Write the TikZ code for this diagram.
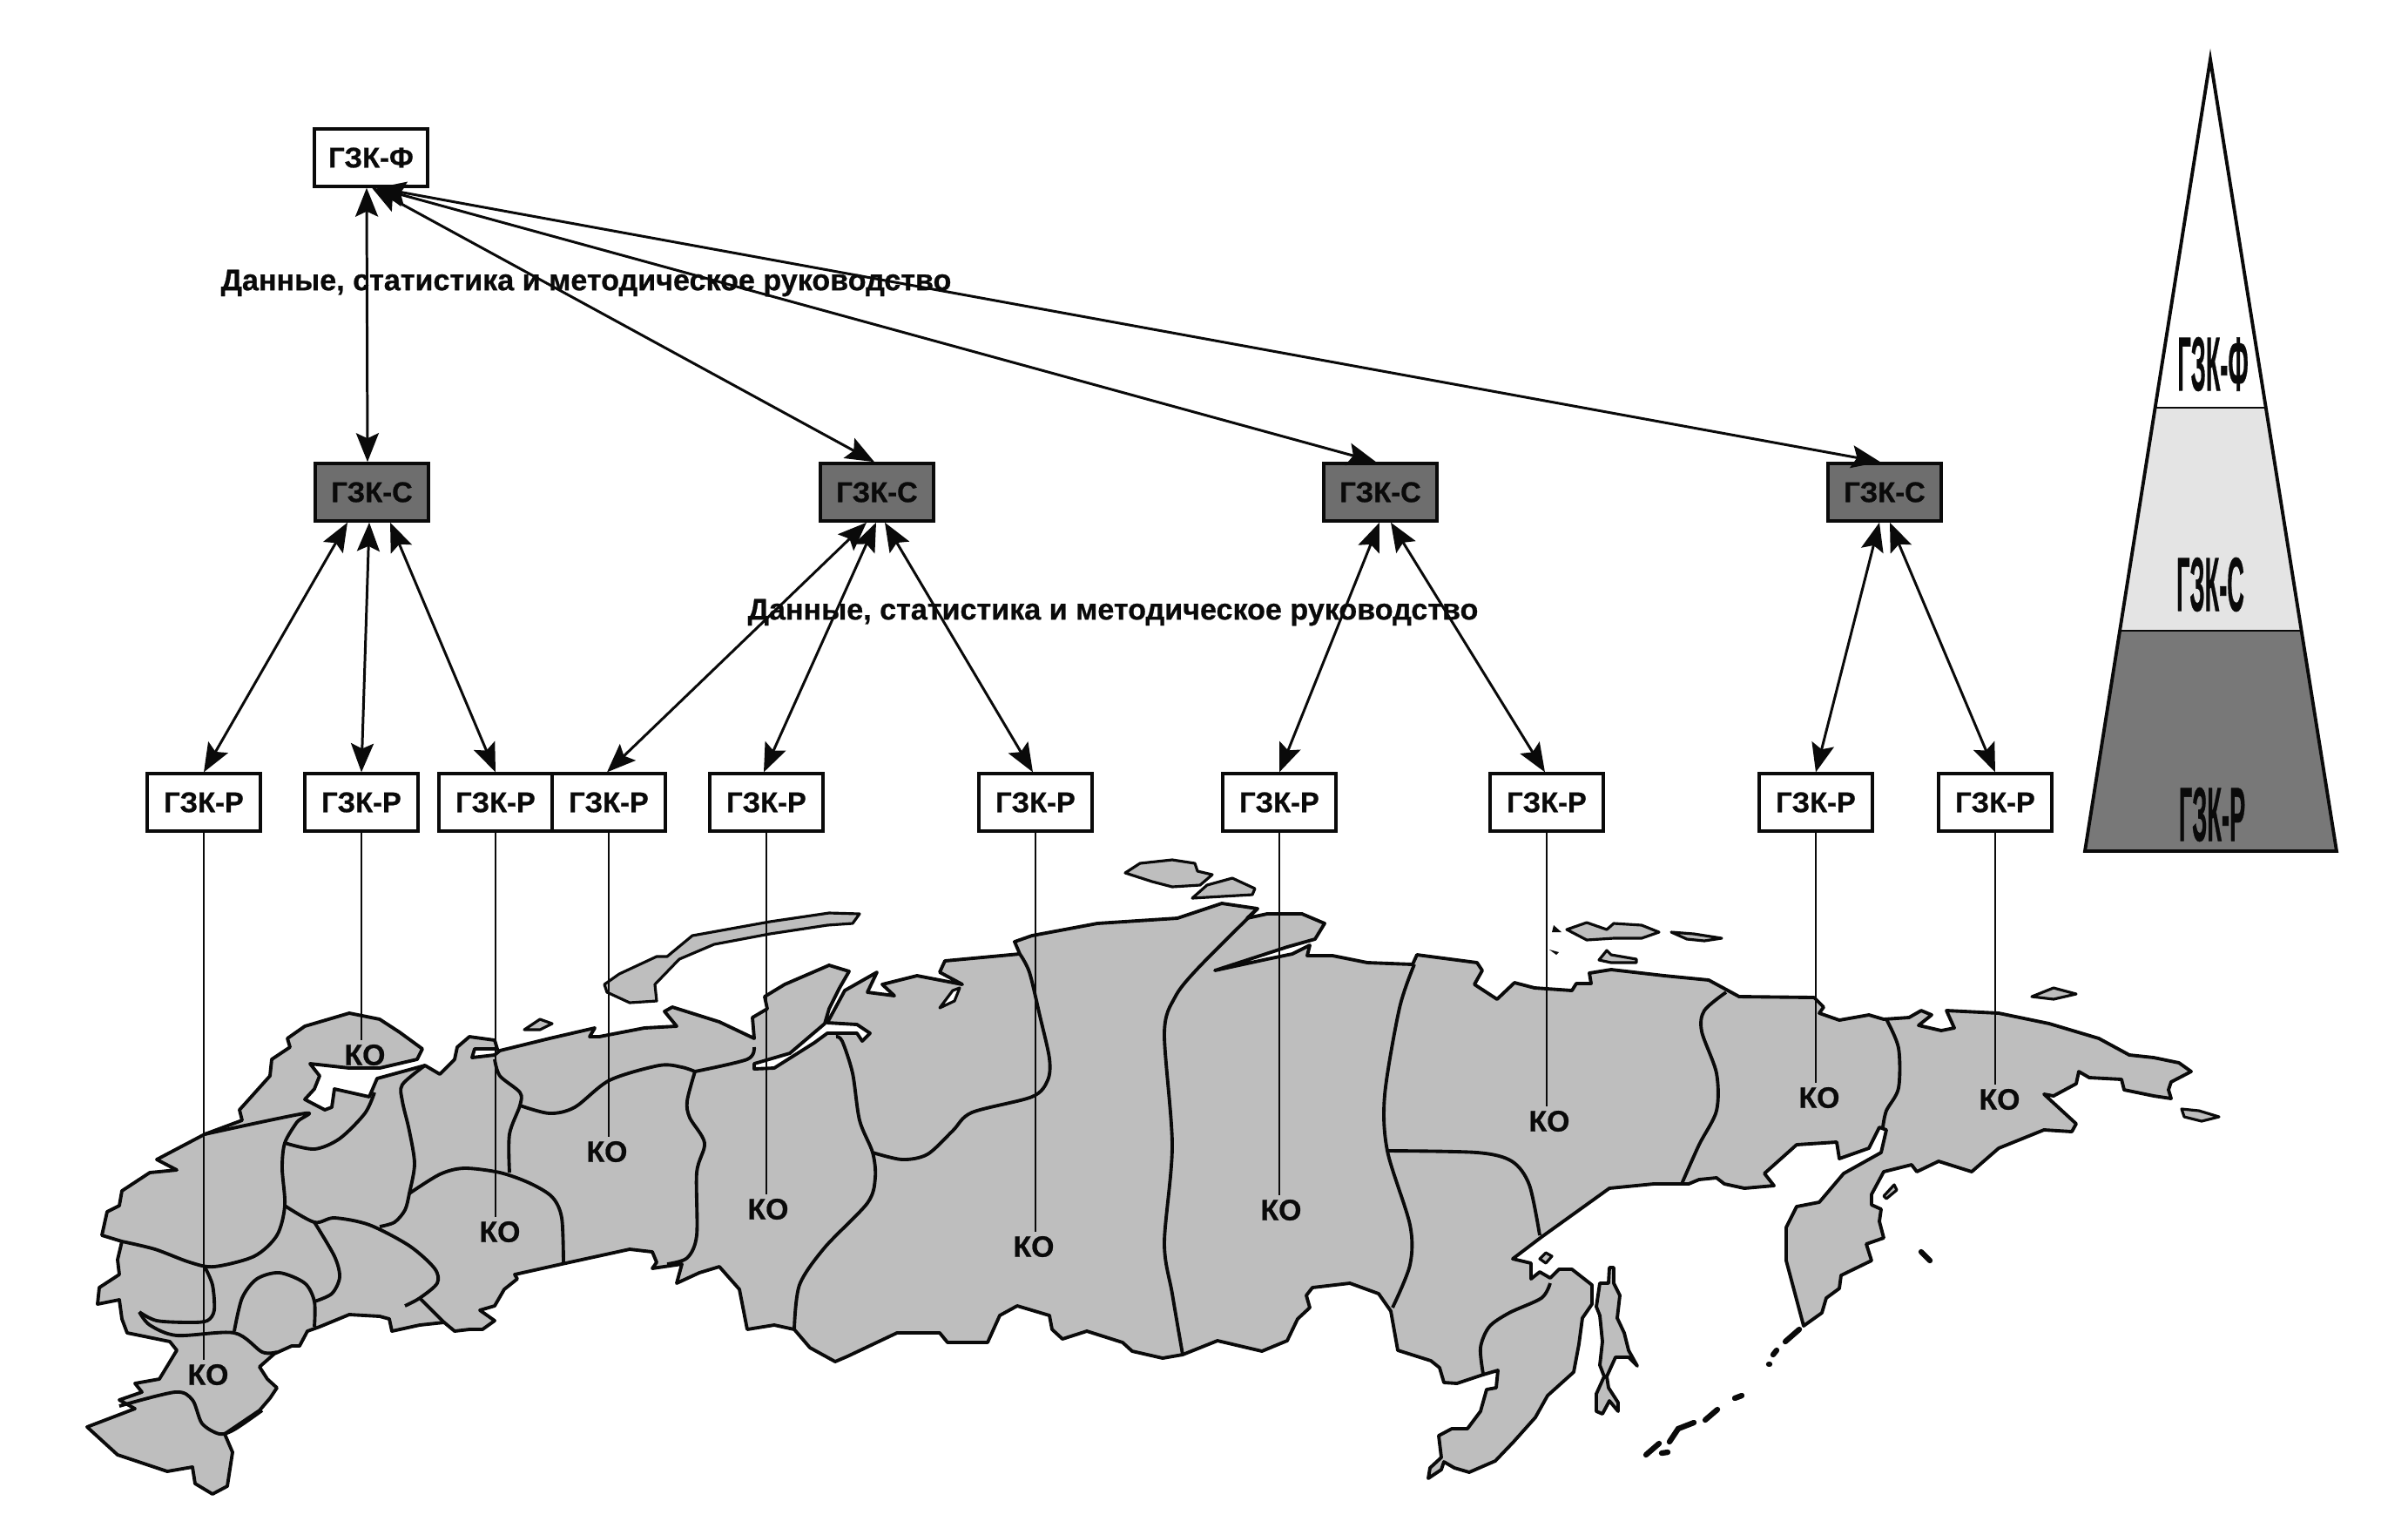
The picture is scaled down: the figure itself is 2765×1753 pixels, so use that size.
\documentclass[tikz,border=0pt]{standalone}
\usepackage{fontspec}
\setmainfont[BoldFeatures={FakeBold=0.7}]{Liberation Sans}
\usetikzlibrary{arrows.meta,calc}
\definecolor{mapink}{HTML}{0A0A0A}
\definecolor{landgray}{HTML}{BEBEBE}
\definecolor{syngray}{HTML}{6E6E6E}
\definecolor{midgray}{HTML}{E4E4E4}
\definecolor{lowgray}{HTML}{787878}

\begin{document}
\begin{tikzpicture}[x=0.01cm, y=-0.01cm, text=mapink,
    land/.style={draw=mapink, fill=landgray, line width=1.1pt, line join=round},
    isle/.style={draw=mapink, fill=landgray, line width=0.9pt, line join=round},
    border/.style={draw=mapink, line width=1.1pt, line join=round, smooth},
    kuril/.style={draw=mapink, line width=1.8pt, line cap=round},
    link/.style={draw=mapink, line width=0.85pt, {Stealth[length=3.3mm, width=2.6mm, inset=0.6mm]}-{Stealth[length=3.3mm, width=2.6mm, inset=0.6mm]}},
    drop/.style={draw=mapink, line width=0.7pt},
    gzkbox/.style={draw=mapink, fill=white, line width=0.9pt, minimum width=1.3cm, minimum height=0.66cm, inner sep=0pt, font=\fontsize{9.3}{10}\selectfont\bfseries},
    gzkdark/.style={gzkbox, fill=syngray, line width=1pt},
    kolabel/.style={inner sep=0.4mm, font=\fontsize{9.6}{10}\selectfont\bfseries},
    note/.style={inner sep=0pt, font=\fontsize{9.7}{10}\selectfont\bfseries},
    pylabel/.style={inner sep=0pt, xscale=0.31, font=\fontsize{25}{26}\selectfont\bfseries},
    pyside/.style={draw=mapink, line width=1.1pt, line join=miter},
  ]
  \useasboundingbox (0,0) rectangle (2765,1753);

  % mainland
  \draw[land] plot coordinates {
    (330,1192) (350,1178) (401,1163) (436,1170) (459,1185) (485,1204) (479,1216) (436,1226) (401,1226)
    (356,1221) (367,1235) (361,1250) (350,1262) (373,1274) (381,1271) (384,1250) (424,1259) (433,1238)
    (488,1223) (505,1233) (522,1216) (525,1202) (539,1190) (568,1194) (571,1204) (545,1204) (542,1214)
    (568,1211) (574,1206) (631,1192) (683,1180) (677,1190) (688,1190) (740,1180) (777,1178) (763,1161)
    (772,1156) (826,1173) (866,1192) (864,1168) (881,1158) (878,1144) (901,1130) (952,1108) (975,1115)
    (964,1134) (952,1158) (947,1175) (907,1209) (866,1221) (866,1227) (889,1226) (935,1197) (950,1186)
    (984,1186) (990,1195) (999,1186) (984,1176) (950,1174) (970,1137) (1007,1116) (996,1139) (1027,1143)
    (1013,1130) (1053,1120) (1105,1130) (1079,1116) (1085,1103) (1171,1095) (1165,1081) (1185,1074)
    (1260,1060) (1352,1054) (1403,1037) (1444,1043) (1432,1054) (1455,1049) (1495,1049) (1521,1060)
    (1510,1078) (1478,1087) (1395,1114) (1455,1101) (1484,1095) (1504,1085) (1501,1097) (1530,1097)
    (1570,1105) (1622,1107) (1627,1096) (1696,1105) (1702,1114) (1693,1130) (1719,1147) (1739,1128)
    (1762,1134) (1805,1137) (1810,1129) (1827,1129) (1825,1117) (1850,1113) (1911,1120) (1962,1125)
    (1997,1144) (2083,1145) (2094,1156) (2089,1163) (2112,1171) (2146,1165) (2163,1170) (2192,1168)
    (2206,1160) (2218,1165) (2203,1177) (2229,1183) (2244,1180) (2235,1160) (2295,1163) (2353,1175)
    (2410,1192) (2445,1211) (2473,1214) (2502,1220) (2516,1230) (2493,1242) (2490,1251) (2493,1261)
    (2473,1258) (2439,1251) (2436,1239) (2399,1237) (2387,1230) (2384,1244) (2358,1258) (2347,1256)
    (2384,1290) (2379,1299) (2347,1297) (2295,1318) (2264,1345) (2226,1333) (2201,1345) (2195,1337)
    (2163,1345) (2149,1371) (2149,1383) (2160,1388) (2158,1402) (2163,1421) (2143,1428) (2149,1447)
    (2114,1464) (2112,1479) (2097,1490) (2092,1507) (2071,1522) (2051,1447) (2051,1409) (2063,1385)
    (2089,1380) (2117,1347) (2160,1323) (2166,1297) (2158,1294) (2146,1318) (2112,1330) (2109,1311)
    (2063,1314) (2026,1347) (2037,1361) (2003,1364) (1980,1359) (1971,1352) (1951,1354) (1939,1359)
    (1899,1359) (1848,1364) (1770,1420) (1737,1445) (1758,1450) (1758,1468) (1768,1460) (1780,1467)
    (1790,1457) (1805,1457) (1828,1475) (1828,1497) (1817,1513) (1813,1543) (1807,1575) (1777,1602)
    (1763,1627) (1738,1655) (1717,1677) (1687,1690) (1670,1685) (1658,1678) (1655,1687) (1640,1697)
    (1642,1685) (1655,1673) (1652,1648) (1667,1640) (1685,1640) (1700,1620) (1707,1595) (1718,1593)
    (1720,1573) (1703,1578) (1673,1588) (1658,1587) (1653,1570) (1643,1562) (1605,1550) (1597,1505)
    (1583,1485) (1550,1473) (1507,1478) (1500,1487) (1504,1501) (1490,1514) (1478,1539) (1449,1551)
    (1398,1539) (1358,1555) (1335,1559) (1300,1551) (1289,1541) (1248,1528) (1220,1537) (1208,1526)
    (1205,1510) (1168,1499) (1148,1510) (1134,1541) (1088,1541) (1079,1530) (1030,1530) (973,1557)
    (959,1563) (930,1547) (912,1526) (889,1521) (858,1526) (849,1480) (826,1454) (803,1461) (777,1473)
    (783,1451) (749,1456) (754,1449) (749,1437) (723,1434) (645,1451) (591,1463) (594,1468) (579,1480)
    (568,1499) (551,1504) (568,1516) (554,1526) (539,1526) (522,1528) (510,1518) (482,1521) (450,1528)
    (447,1514) (436,1511) (401,1509) (367,1523) (353,1528) (344,1545) (335,1545) (315,1554) (298,1569)
    (307,1583) (318,1593) (310,1605) (298,1619) (258,1646) (267,1667) (261,1706) (244,1715) (224,1703)
    (221,1684) (192,1689) (135,1670) (100,1638) (155,1617) (137,1607) (163,1598) (155,1588) (183,1583)
    (203,1550) (195,1540) (146,1530) (140,1514) (137,1492) (112,1497) (114,1478) (137,1463) (135,1446)
    (140,1425) (117,1418) (123,1391) (137,1384) (140,1367) (172,1346) (203,1343) (180,1331) (235,1302)
    (278,1286) (275,1274) (310,1235) (312,1216) (333,1202)
  } -- cycle;
  \draw[isle, fill=white] (1094,1137) -- (1079,1157) -- (1096,1149) -- (1102,1134) -- cycle;

  % islands
  \draw[isle] plot coordinates {(694,1130) (711,1118) (754,1098) (766,1098) (795,1074) (884,1058) (952,1048) (987,1049) (979,1060) (950,1062) (884,1072) (820,1084) (780,1101) (752,1130) (754,1149) (723,1151) (697,1139)} -- cycle;
  \draw[isle] plot coordinates {(602,1182) (620,1170) (634,1175) (620,1182)} -- cycle;
  \draw[isle] plot coordinates {(1292,1002) (1309,991) (1346,987) (1372,991) (1375,1000) (1392,1004) (1378,1016) (1346,1018) (1323,1012)} -- cycle;
  \draw[isle] plot coordinates {(1369,1031) (1386,1016) (1415,1008) (1441,1020) (1438,1027)} -- cycle;
  \draw[isle] plot coordinates {(1799,1067) (1822,1059) (1845,1067) (1853,1060) (1885,1062) (1905,1070) (1885,1077) (1853,1077) (1822,1079)} -- cycle;
  \draw[isle] plot coordinates {(1919,1070) (1945,1072) (1977,1077) (1957,1080) (1937,1078)} -- cycle;
  \draw[isle] plot coordinates {(1836,1102) (1845,1091) (1850,1096) (1879,1101) (1879,1105) (1850,1105)} -- cycle;
  \draw[isle] plot coordinates {(2333,1144) (2358,1134) (2384,1141) (2358,1147)} -- cycle;
  \draw[isle] plot coordinates {(2505,1273) (2525,1275) (2548,1282) (2528,1287) (2508,1282)} -- cycle;
  \draw[isle] plot coordinates {(2163,1373) (2175,1360) (2178,1366) (2166,1376)} -- cycle;
  \draw[isle] plot coordinates {(1768,1445) (1775,1438) (1782,1442) (1775,1450)} -- cycle;
  \draw[land] plot coordinates {(1848,1455) (1853,1455) (1853,1473) (1860,1487) (1857,1513) (1865,1530) (1870,1550) (1880,1568) (1870,1558) (1855,1558) (1845,1580) (1847,1593) (1858,1610) (1858,1620) (1848,1608) (1840,1623) (1833,1620) (1833,1600) (1842,1580) (1837,1567) (1840,1540) (1837,1510) (1833,1500) (1837,1473) (1847,1473)} -- cycle;

  % kurils and specks
  \fill[mapink] (1784,1062) -- (1793,1070) -- (1782,1070) -- cycle;
  \fill[mapink] (1779,1090) -- (1790,1093) -- (1787,1096) -- cycle;
  \draw[kuril] (2206,1437) -- (2216,1447);
  \draw[kuril] (2050,1540) -- (2066,1526);
  \draw[kuril] (2036,1555) -- (2040,1550);
  \draw[kuril] (2031,1566) -- (2032,1566);
  \draw[kuril] (1992,1605) -- (2000,1602);
  \draw[kuril] (1958,1630) -- (1972,1618);
  \draw[kuril] (1917,1655) -- (1927,1640) -- (1945,1633);
  \draw[kuril] (1890,1670) -- (1905,1657);
  \draw[kuril] (1908,1668) -- (1915,1667);

  % region borders
  \draw[border] plot coordinates {(235,1302) (350,1278) (341,1288) (327,1312) (324,1341) (327,1384) (318,1418) (292,1442) (246,1454) (218,1449) (178,1434) (140,1425)};
  \draw[border] plot[smooth] coordinates {(327,1312) (361,1319) (390,1307) (419,1278) (430,1254)};
  \draw[border] plot[smooth] coordinates {(488,1223) (462,1245) (462,1264) (470,1298) (476,1336) (470,1370) (465,1389) (453,1403) (436,1408)};
  \draw[border] plot[smooth] coordinates {(327,1384) (361,1403) (384,1398) (424,1406) (470,1430) (499,1456) (502,1473) (482,1490) (465,1499)};
  \draw[border] plot coordinates {(482,1490) (510,1518)};
  \draw[border] plot[smooth] coordinates {(361,1403) (384,1442) (390,1466) (381,1485) (361,1494)};
  \draw[border] plot[smooth] coordinates {(361,1523) (361,1494) (350,1473) (321,1461) (295,1468) (278,1490) (269,1528)};
  \draw[border] plot[smooth] coordinates {(160,1506) (180,1516) (218,1518) (238,1516) (246,1504) (244,1475) (235,1454)};
  \draw[border] plot coordinates {(160,1506) (172,1521) (203,1533) (269,1530) (301,1552) (318,1552)};
  \draw[border] plot[smooth] coordinates {(137,1614) (201,1598) (221,1607) (232,1634) (252,1646) (269,1641) (301,1619)};
  \draw[border] plot[smooth] coordinates {(470,1370) (505,1348) (533,1341) (574,1346) (608,1358) (634,1374) (645,1398) (647,1451)};
  \draw[border] plot[smooth] coordinates {(568,1216) (574,1235) (597,1254) (597,1269) (585,1302) (585,1346)};
  \draw[border] plot[smooth] coordinates {(597,1269) (631,1278) (660,1271) (700,1240) (757,1223) (783,1225) (798,1230)};
  \draw[border] plot[smooth] coordinates {(798,1230) (858,1216) (866,1202)};
  \draw[border] plot[smooth] coordinates {(798,1230) (789,1264) (792,1283) (809,1312) (800,1346) (800,1418) (789,1444) (766,1451)};
  \draw[border] plot[smooth] coordinates {(960,1190) (967,1195) (979,1232) (987,1286) (1002,1323) (1005,1352) (996,1381) (947,1432) (918,1475) (912,1526)};
  \draw[border] plot[smooth] coordinates {(1002,1323) (1036,1331) (1065,1325) (1094,1298) (1116,1277) (1185,1259) (1203,1240) (1205,1215) (1194,1166) (1182,1116) (1171,1095)};
  \draw[border] plot[smooth] coordinates {(1444,1043) (1375,1112) (1349,1145) (1337,1186) (1346,1315) (1337,1427) (1346,1485) (1358,1555)};
  \draw[border] plot[smooth] coordinates {(1624,1107) (1607,1157) (1590,1257) (1593,1321) (1619,1406) (1619,1452) (1599,1501)};
  \draw[border] plot[smooth] coordinates {(1593,1321) (1696,1323) (1736,1333) (1756,1360) (1768,1418)};
  \draw[border] plot[smooth] coordinates {(1780,1473) (1770,1490) (1733,1507) (1710,1523) (1700,1547) (1703,1577)};
  \draw[border] plot[smooth] coordinates {(1982,1139) (1957,1160) (1954,1184) (1971,1232) (1971,1275) (1951,1314) (1931,1359)};
  \draw[border] plot[smooth] coordinates {(2166,1170) (2180,1203) (2180,1249) (2166,1275) (2162,1294)};

  % top of the hierarchy
  \node[gzkbox] (gf) at (426,181) {ГЗК-Ф};
  \node[gzkdark] (gs1) at (427,565) {ГЗК-С};
  \node[gzkdark] (gs2) at (1007,565) {ГЗК-С};
  \node[gzkdark] (gs3) at (1585,565) {ГЗК-С};
  \node[gzkdark] (gs4) at (2164,565) {ГЗК-С};

  % regional boxes
  \foreach \n/\xx in {1/234, 2/415, 3/569, 4/699, 5/880, 6/1189, 7/1469, 8/1776, 9/2085, 10/2291}
    \node[gzkbox] (gr\n) at (\xx,921) {ГЗК-Р};

  % KO labels and their drop lines
  \foreach \n/\xx/\yy in {1/239/1578, 2/419/1211, 3/574/1414, 4/697/1322, 5/882/1388, 6/1187/1431, 7/1471/1389, 8/1779/1287, 9/2089/1260, 10/2296/1262} {
    \node[kolabel] (ko\n) at (\xx,\yy) {КО};
    \draw[drop] (gr\n.south) -- (gr\n.south |- ko\n.north);
  }

  % double arrows
  \draw[link] ([xshift=-0.05cm]gf.south) -- ([xshift=-0.05cm]gs1.north);
  \draw[link] ([xshift=0.01cm]gf.south) -- ([xshift=-0.03cm]gs2.north);
  \draw[link] ([xshift=0.06cm]gf.south) -- ([xshift=-0.05cm]gs3.north);
  \draw[link] ([xshift=0.07cm]gf.south) -- ([xshift=-0.05cm]gs4.north);
  \draw[link] ([xshift=-0.28cm]gs1.south) -- (gr1.north);
  \draw[link] ([xshift=-0.03cm]gs1.south) -- (gr2.north);
  \draw[link] ([xshift=0.21cm]gs1.south) -- (gr3.north);
  \draw[link] ([xshift=-0.12cm]gs2.south) -- ([xshift=-0.02cm]gr4.north);
  \draw[link] ([xshift=-0.01cm]gs2.south) -- ([xshift=-0.03cm]gr5.north);
  \draw[link] ([xshift=0.09cm]gs2.south) -- ([xshift=-0.03cm]gr6.north);
  \draw[link] ([xshift=-0.01cm]gs3.south) -- (gr7.north);
  \draw[link] ([xshift=0.12cm]gs3.south) -- ([xshift=-0.02cm]gr8.north);
  \draw[link] ([xshift=-0.06cm]gs4.south) -- (gr9.north);
  \draw[link] ([xshift=0.06cm]gs4.south) -- (gr10.north);

  \node[note] (noteup) at (673,325) {Данные, статистика и методическое руководство};
  \node[note] (notemid) at (1278,703) {Данные, статистика и методическое руководство};

  % pyramid
  \fill[white] (2538,68) -- (2476,468) -- (2601,468) -- cycle;
  \fill[midgray] (2476,468) -- (2601,468) -- (2642,724) -- (2434,724) -- cycle;
  \fill[lowgray] (2434,724) -- (2642,724) -- (2683,977) -- (2394,977) -- cycle;
  \draw[pyside] (2538,68) -- (2394,977) -- (2683,977) -- cycle;
  \draw[drop] (2476,468) -- (2601,468);
  \draw[drop] (2434,724) -- (2642,724);
  \node[pylabel] (pyf) at (2541,418) {ГЗК-Ф};
  \node[pylabel] (pys) at (2538,671) {ГЗК-С};
  \node[pylabel] (pyr) at (2540,935) {ГЗК-Р};
\end{tikzpicture}
\end{document}
